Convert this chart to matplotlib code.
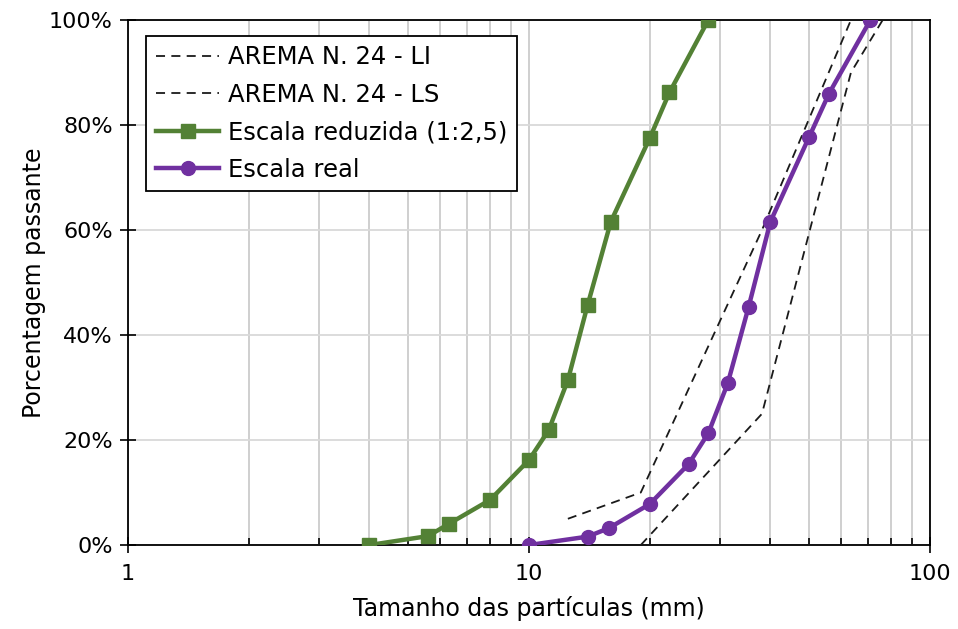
import matplotlib.pyplot as plt
from matplotlib.ticker import FixedLocator, LogLocator, NullFormatter, PercentFormatter

# AREMA N. 24 limits (mm, % passing)
li_size = [19.0, 38.1, 63.5, 76.2]
li_pass = [0, 25, 90, 100]
ls_size = [12.5, 19.0, 38.1, 63.5]
ls_pass = [5, 10, 60, 100]

# reduced scale (1:2,5)
red_size = [4.0, 5.6, 6.3, 8.0, 10.0, 11.2, 12.5, 14.0, 16.0, 20.0, 22.4, 28.0]
red_pass = [0, 1.7, 4.0, 8.6, 16.2, 21.9, 31.4, 45.7, 61.6, 77.5, 86.2, 100]

# real scale
real_size = [10.0, 14.0, 15.8, 20.0, 25.0, 28.0, 31.3, 35.3, 40.0, 50.0, 56.0, 71.0]
real_pass = [0, 1.6, 3.2, 7.8, 15.4, 21.3, 30.8, 45.4, 61.6, 77.8, 86.0, 100]

fig, ax = plt.subplots(figsize=(9.58, 6.29), dpi=100)
fig.subplots_adjust(left=0.1336, right=0.9708, top=0.9682, bottom=0.1335)

ax.plot(li_size, li_pass, color="#1a1a1a", linestyle=(0, (5, 3.5)), linewidth=1.3,
        label="AREMA N. 24 - LI", zorder=3)
ax.plot(ls_size, ls_pass, color="#1a1a1a", linestyle=(0, (5, 3.5)), linewidth=1.3,
        label="AREMA N. 24 - LS", zorder=3)
ax.plot(red_size, red_pass, color="#538135", linewidth=3.2, marker="s", markersize=10,
        label="Escala reduzida (1:2,5)", zorder=4)
ax.plot(real_size, real_pass, color="#7030A0", linewidth=3.2, marker="o", markersize=10,
        label="Escala real", zorder=4)

ax.set_xscale("log")
ax.set_xlim(1, 100)
ax.set_ylim(0, 100)
ax.xaxis.set_major_locator(FixedLocator([1, 10, 100]))
ax.xaxis.set_major_formatter(plt.FuncFormatter(lambda v, p: f"{v:g}"))
ax.xaxis.set_minor_locator(LogLocator(base=10, subs=range(2, 10)))
ax.xaxis.set_minor_formatter(NullFormatter())
ax.set_yticks(range(0, 101, 20))
ax.yaxis.set_major_formatter(PercentFormatter(decimals=0))

ax.grid(True, which="both", axis="x", color="#cccccc", linewidth=1.3)
ax.grid(True, which="major", axis="y", color="#d9d9d9", linewidth=1.3)
ax.set_axisbelow(True)

ax.tick_params(axis="both", which="major", direction="inout", length=12, width=1.2,
               labelsize=16, colors="black")
ax.tick_params(axis="x", which="minor", direction="in", length=5, width=1.2)
ax.tick_params(axis="y", which="major", pad=5)
ax.tick_params(axis="x", which="major", pad=8)
for s in ax.spines.values():
    s.set_linewidth(1.3)
    s.set_color("black")

ax.set_xlabel("Tamanho das partículas (mm)", fontsize=17, labelpad=8)
ax.set_ylabel("Porcentagem passante", fontsize=17, labelpad=2)

leg = ax.legend(loc="upper left", bbox_to_anchor=(0.023, 0.97), fontsize=17.5,
                frameon=True, fancybox=False, edgecolor="black", framealpha=1,
                handlelength=2.6, handletextpad=0.35, borderpad=0.4,
                labelspacing=0.55, borderaxespad=0)
leg.get_frame().set_linewidth(1.3)

plt.savefig("out.png", dpi=100)
